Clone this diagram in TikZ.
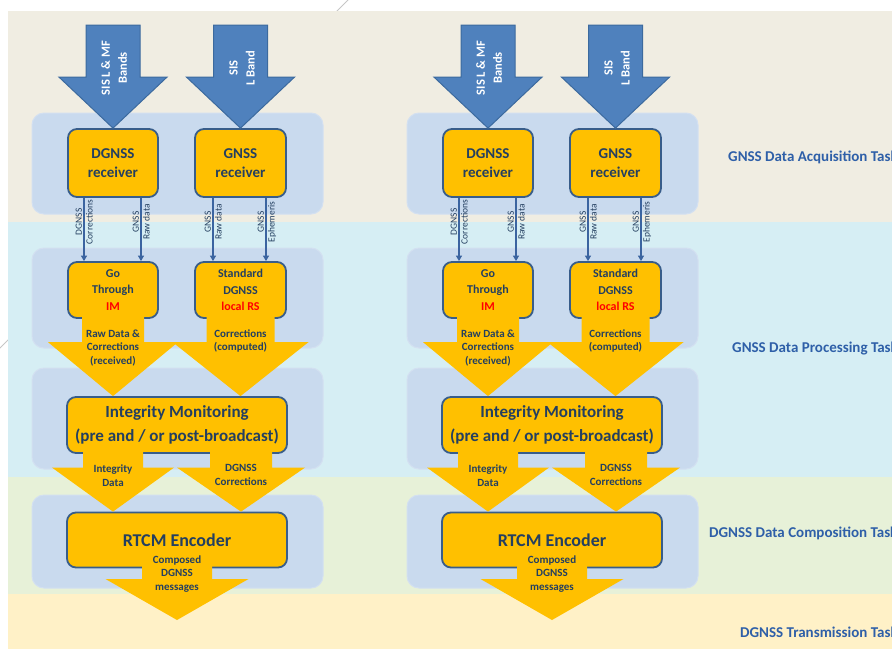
\documentclass[tikz,border=0pt]{standalone}
\usepackage{fontspec}
\setmainfont{Carlito}
\usepackage{xcolor}
\usetikzlibrary{calc,arrows.meta,positioning}
\definecolor{bandac}{HTML}{F0EDE2}
\definecolor{bandbc}{HTML}{D6EEF4}
\definecolor{bandcc}{HTML}{E7F1D8}
\definecolor{banddc}{HTML}{FFF1C7}
\definecolor{panelc}{HTML}{C9DAEE}
\definecolor{panelbd}{HTML}{D3E0F1}
\definecolor{sisc}{HTML}{4F81BD}
\definecolor{sisbd}{HTML}{3C6A9E}
\definecolor{orangec}{HTML}{FFC000}
\definecolor{boxbd}{HTML}{385D8A}
\definecolor{navyc}{HTML}{243F60}
\definecolor{linec}{HTML}{3B64A0}
\definecolor{imred}{HTML}{FF0000}
\definecolor{taskc}{HTML}{2E5FA8}
% block arrow: from, to, shaft half width, head half width, head length, style
\newcommand{\blockarrow}[6]{%
  \path[#6] let \p1=(#1), \p2=(#2) in
    (\x1-#3,\y1) -- (\x1-#3,\y2+#5) -- (\x1-#4,\y2+#5) -- (\x2,\y2)
    -- (\x1+#4,\y2+#5) -- (\x1+#3,\y2+#5) -- (\x1+#3,\y1) -- cycle;}
\tikzset{
  panel/.style={fill=panelc,draw=panelbd,line width=1pt,rounded corners=12pt},
  box/.style={draw=boxbd,line width=1.8pt,fill=orangec,rounded corners=9pt,align=center,text=navyc,inner sep=2pt},
  rxt/.style={font=\fontsize{15}{19.5}\selectfont\bfseries},
  smt/.style={font=\fontsize{12}{16.7}\selectfont\bfseries},
  imt/.style={font=\fontsize{17}{24}\selectfont\bfseries},
  rtt/.style={font=\fontsize{18}{22}\selectfont\bfseries},
  sisar/.style={fill=sisc,draw=sisbd,line width=1pt},
  sistext/.style={rotate=90,align=center,text=white,font=\fontsize{12.5}{17}\selectfont\bfseries},
  orar/.style={fill=orangec},
  atext/.style={align=center,text=navyc,font=\fontsize{11}{13.7}\selectfont\bfseries,inner sep=0pt},
  thinar/.style={-{Triangle[length=5.5pt,width=6pt]},line width=1.8pt,draw=linec},
  tlbl/.style={rotate=90,text=navyc,font=\fontsize{9.5}{10}\selectfont,inner sep=1.2pt},
  task/.style={anchor=west,text=taskc,font=\fontsize{15}{18}\selectfont\bfseries,inner sep=0pt}
}
\begin{document}
\begin{tikzpicture}[x=1pt,y=-1pt]
\useasboundingbox (0,0) rectangle (892,649);
\draw[gray!45,line width=0.8pt] (349,-1) -- (-1,349);
% task bands
\fill[bandac] (8,11) rectangle (892,222);
\fill[bandbc] (8,222) rectangle (892,477);
\fill[bandcc] (8,477) rectangle (892,594);
\fill[banddc] (8,594) rectangle (892,649);
\node[task] (tacq) at (728,157) {GNSS Data Acquisition Task};
\node[task] (tpro) at (732,349) {GNSS Data Processing Task};
\node[task] (tcom) at (709,533) {DGNSS Data Composition Task};
\node[task] (ttra) at (740,632) {DGNSS Transmission Task};
% two identical chains
\foreach \c/\ox in {L/0,R/375}{
  \draw[panel] (\ox+32,113) rectangle (\ox+323,214);
  \draw[panel] (\ox+32,248) rectangle (\ox+323,348);
  \draw[panel] (\ox+32,368) rectangle (\ox+323,469);
  \draw[panel] (\ox+32,495) rectangle (\ox+323,588);
  \node[box,rxt,minimum width=90pt,minimum height=68pt] (dgr\c) at (\ox+113,163) {DGNSS\\receiver};
  \node[box,rxt,minimum width=91pt,minimum height=68pt] (gnr\c) at (\ox+240.5,163) {GNSS\\receiver};
  \node[box,smt,minimum width=90pt,minimum height=56pt] (gth\c) at (\ox+113,290) {Go\\Through\\\textcolor{imred}{IM}};
  \node[box,smt,minimum width=91pt,minimum height=56pt] (sdg\c) at (\ox+240.5,290) {Standard\\DGNSS\\\textcolor{imred}{local RS}};
  \node[box,imt,minimum width=220pt,minimum height=56pt] (imn\c) at (\ox+177,425) {Integrity Monitoring\\(pre and / or post-broadcast)};
  \node[box,rtt,minimum width=220pt,minimum height=55pt] (rtc\c) at (\ox+177,540) {RTCM Encoder};
  % signals in space
  \coordinate (sisa\c) at (\ox+113,25);
  \coordinate (sisb\c) at (\ox+240.5,25);
  \blockarrow{sisa\c}{dgr\c.north}{27pt}{54pt}{51pt}{sisar}
  \blockarrow{sisb\c}{gnr\c.north}{27pt}{54pt}{51pt}{sisar}
  \node[sistext] (sist\c) at (\ox+114,68) {SIS L \& MF\\Bands};
  \node[sistext] (sisu\c) at (\ox+242,68) {SIS\\L Band};
  % receiver outputs
  \draw[thinar] ([xshift=-29pt]dgr\c.south) -- ([xshift=-29pt]gth\c.north)
    node[tlbl,pos=0.38,anchor=south] (la\c) {DGNSS}
    node[tlbl,pos=0.38,anchor=north] (lb\c) {Corrections};
  \draw[thinar] ([xshift=28pt]dgr\c.south) -- ([xshift=28pt]gth\c.north)
    node[tlbl,pos=0.38,anchor=south] (lc\c) {GNSS}
    node[tlbl,pos=0.38,anchor=north] (ld\c) {Raw data};
  \draw[thinar] ([xshift=-27.5pt]gnr\c.south) -- ([xshift=-27.5pt]sdg\c.north)
    node[tlbl,pos=0.38,anchor=south] (le\c) {GNSS}
    node[tlbl,pos=0.38,anchor=north] (lf\c) {Raw data};
  \draw[thinar] ([xshift=25.5pt]gnr\c.south) -- ([xshift=25.5pt]sdg\c.north)
    node[tlbl,pos=0.38,anchor=south] (lg\c) {GNSS}
    node[tlbl,pos=0.38,anchor=north] (lh\c) {Ephemeris};
  % processed data flows
  \blockarrow{[yshift=2pt]gth\c.south}{gth\c.south |- imn\c.north}{31pt}{65pt}{54pt}{orar}
  \blockarrow{[yshift=2pt]sdg\c.south}{sdg\c.south |- imn\c.north}{34pt}{68pt}{54pt}{orar}
  \node[atext] (rdc\c) at (\ox+113,348) {Raw Data \&\\Corrections\\(received)};
  \node[atext] (cmp\c) at (\ox+240.5,341) {Corrections\\(computed)};
  \blockarrow{[xshift=-64pt,yshift=3pt]imn\c.south}{[xshift=-64pt]rtc\c.north}{30pt}{61pt}{44pt}{orar}
  \blockarrow{[xshift=64pt,yshift=3pt]imn\c.south}{[xshift=64pt]rtc\c.north}{31pt}{64pt}{44pt}{orar}
  \node[atext] (itd\c) at (\ox+113,476) {Integrity\\Data};
  \node[atext] (dgc\c) at (\ox+241,475) {DGNSS\\Corrections};
  \coordinate (out\c) at (\ox+177,620);
  \blockarrow{[yshift=5pt]rtc\c.south}{out\c}{35pt}{71.5pt}{41pt}{orar}
  \node[atext] (cdm\c) at (\ox+177,574) {Composed\\DGNSS\\messages};
}
\end{tikzpicture}
\end{document}
